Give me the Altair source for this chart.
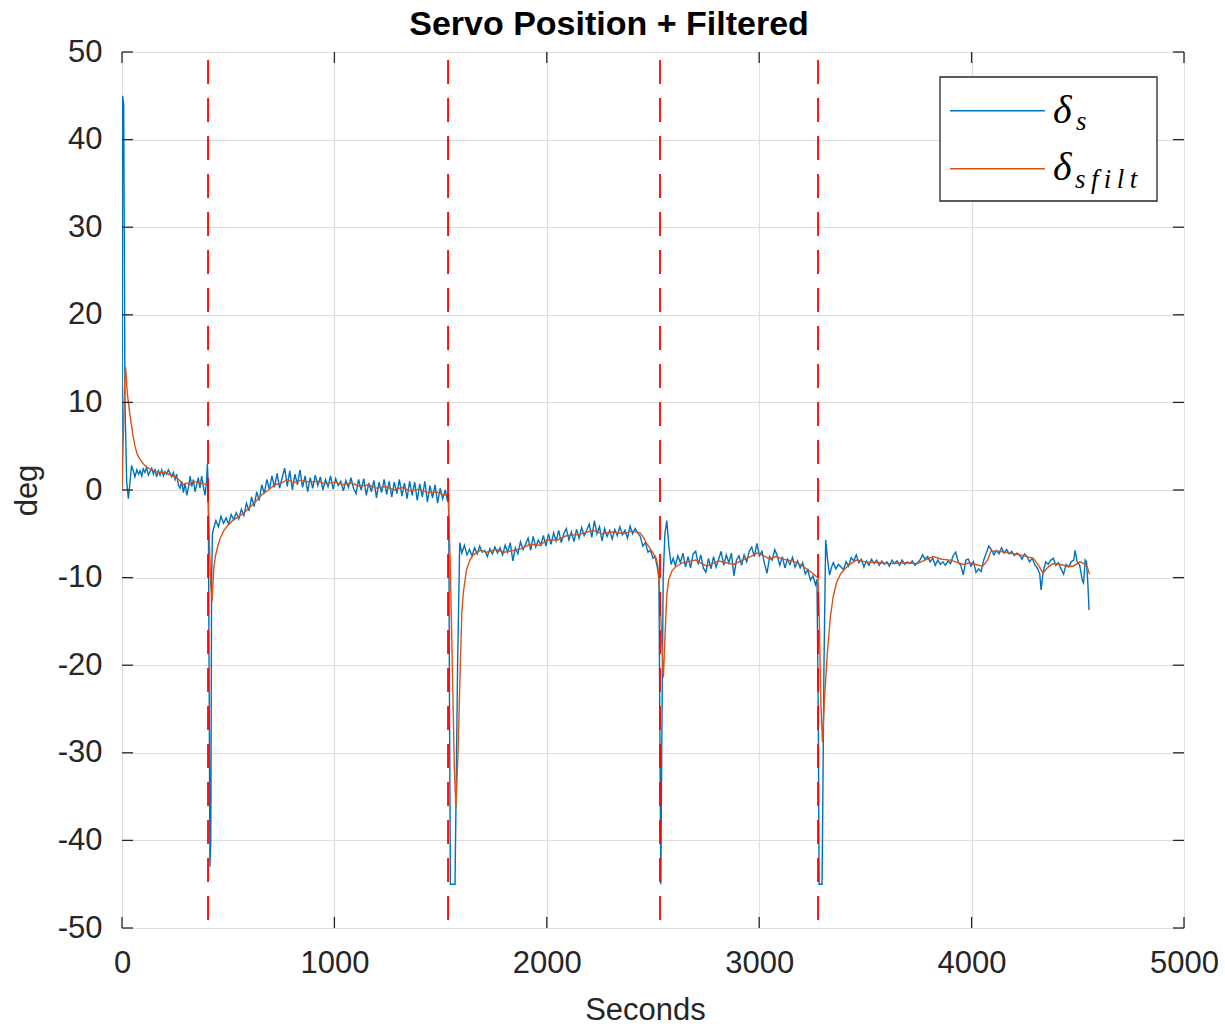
import altair as alt
import pandas as pd

# ---------------- data ----------------
# servo position (blue), irregular parts written explicitly, uniform parts sampled every 12 s
seg1_t = [0, 3, 8, 14, 22, 30, 38, 45, 53, 61, 70, 78, 85, 93, 100, 108, 116, 124, 132, 140,
          148, 155, 163, 171, 179, 187, 195, 202, 210, 218, 226, 234, 242, 250, 257, 265, 273, 281, 289, 297,
          305, 313, 321, 328, 336, 344, 351, 359, 367, 375, 383, 391, 398, 402, 406, 410, 414, 418, 422, 426]
seg1_v = [0, 45, 44, 10, 1, -1, 1, 2.8, 2.2, 1.5, 2.3, 1.8, 2.2, 1.6, 2.4, 2.0, 2.6, 1.7, 2.1, 2.5,
          1.8, 2.4, 1.5, 2.2, 1.7, 2.3, 1.6, 2.1, 1.8, 2.3, 1.9, 1.5, 2.0, 1.2, 1.8, 0.6, 0.2, 1.0, -0.3, 0.8,
          -0.6, 0.3, 1.6, 0.4, 1.2, -0.2, 0.5, 1.4, 0.2, 1.6, 0.4, -0.6, 1.0, 3.0, 0.5, -20, -43, -40, -10, -5]

seg2_t = list(range(430, 1523, 12)) + [1532, 1538, 1542, 1546, 1568, 1580, 1590]
seg2_v = [-4.5, -3.5, -4.2, -3.0, -3.8, -3.2, -3.9, -2.8, -3.4, -2.6,
          -3.3, -2.2, -2.9, -1.5, -2.4, -0.8, -1.9, -0.2, -1.2, 0.6,
          -0.4, 1.2, 0.1, 1.6, 0.3, 1.9, 0.2, 1.4, 2.5, 0.4,
          2.2, 0.0, 1.8, 0.6, 2.3, 0.3, 1.6, -0.2, 1.4, 0.2,
          1.7, 0.5, 1.5, 0.0, 1.2, 0.4, 1.6, 0.1, 1.3, 0.5,
          1.0, -0.1, 1.1, 0.3, 1.4, 0.2, -0.4, 1.2, 0.0, 1.3,
          -0.6, 0.8, -0.2, 1.1, -0.9, 0.9, -0.3, 1.2, -0.5, 1.0,
          -0.8, 0.9, -0.4, 1.2, -0.7, 0.8, -1.0, 1.0, -0.6, 0.9,
          -1.2, 0.7, -0.8, 1.0, -1.4, 0.5, -0.9, 0.6, -1.5, 0.2,
          -1.0, 0.0,
          -1.2, -0.5, -25, -45, -45, -20, -6.0]

seg3_t = list(range(1600, 2501, 12)) + [2510, 2520, 2528, 2533, 2537, 2541, 2548, 2556, 2565, 2575, 2585, 2595]
seg3_v = [-7.2, -6.3, -7.4, -6.8, -7.5, -6.6, -7.3, -6.4, -7.1, -6.9,
          -7.6, -6.7, -7.3, -6.5, -7.2, -6.6, -7.4, -6.3, -7.1, -6.0,
          -8.1, -6.6, -7.3, -5.9, -6.8, -6.2, -5.5, -6.9, -5.3, -6.5,
          -5.7, -6.3, -5.2, -6.4, -5.0, -6.2, -4.9, -5.8, -4.6, -6.0,
          -5.0, -4.4, -5.7, -4.8, -5.9, -4.5, -5.5, -4.3, -5.2, -4.6,
          -3.9, -5.4, -3.5, -5.0, -4.2, -5.8, -4.4, -5.3, -4.6, -5.6,
          -4.5, -5.2, -4.2, -5.1, -4.6, -5.5, -4.1, -5.0, -4.4, -4.9,
          -5.3, -6.4, -6.0, -7.1, -6.9, -7.8,
          -7.6, -8.8, -10, -30, -45, -30, -10, -5, -3.5, -6.5, -8.5, -7.8]

seg4_t = list(range(2605, 3266, 12)) + [3272, 3278, 3282, 3296, 3305, 3313, 3322, 3331, 3341, 3349]
seg4_v = [-8.6, -7.5, -8.3, -7.2, -8.8, -7.6, -8.9, -7.3, -7.0, -8.5,
          -7.4, -8.9, -9.4, -7.8, -9.0, -7.6, -8.8, -7.9, -7.0, -8.6,
          -7.4, -8.3, -7.2, -9.8, -8.0, -7.5, -8.6, -7.4, -8.2, -7.0,
          -6.5, -7.6, -6.1, -7.5, -7.0, -8.4, -9.5, -7.6, -8.0, -6.8,
          -7.5, -8.6, -7.6, -8.9, -7.9, -8.5, -7.7, -8.8, -8.1, -8.9,
          -8.3, -9.6, -9.1, -10.3, -9.8, -10.8,
          -10.2, -25, -45, -45, -20, -5.7, -8.0, -9.7, -8.8, -8.3]

seg5_t = list(range(3361, 4322, 12)) + [4327, 4337, 4349, 4361, 4373, 4385, 4397, 4409, 4421, 4433,
                                        4445, 4457, 4469, 4481, 4487, 4497, 4509, 4521, 4527, 4535,
                                        4541, 4547, 4553]
seg5_v = [-9.0, -8.5, -8.8, -9.1, -8.2, -8.7, -7.7, -8.1, -7.4, -8.3,
          -7.9, -8.8, -8.1, -8.6, -7.9, -8.4, -8.0, -8.6, -8.1, -8.5,
          -8.2, -8.7, -8.0, -8.4, -8.1, -8.6, -8.0, -8.5, -8.2, -8.4,
          -8.1, -8.6, -8.3, -8.0, -7.4, -7.9, -7.6, -8.2, -7.8, -8.6,
          -8.0, -8.5, -8.2, -8.6, -8.1, -8.4, -7.5, -7.1, -8.2, -8.6,
          -9.7, -8.0, -7.9, -8.7, -8.2, -9.4, -9.0, -9.3, -8.0, -7.2,
          -6.4, -6.8, -7.4, -6.9, -7.3, -6.6, -7.2, -6.8, -7.3, -7.0,
          -7.5, -7.2, -7.4, -7.9, -7.3, -7.6, -8.2, -7.8, -8.5, -8.9,
          -9.6,
          -11.4, -9.3, -8.2, -8.5, -8.0, -7.8, -8.6, -8.3, -9.0, -9.6,
          -8.5, -8.8, -8.2, -8.0, -6.9, -8.2, -8.6, -10.3, -10.6, -8.0,
          -8.2, -10.5, -13.7]

# filtered servo position (orange)
filt_t = [0, 6, 12, 17, 25, 38, 50, 61, 73, 85, 100, 116, 140, 160, 179, 200, 220, 240, 257, 275,
          290, 304, 320, 335, 351, 370, 385, 400, 405, 410, 418, 424, 432, 440, 450, 461, 480, 500, 520, 545,
          570, 600, 634, 660, 690, 720, 750, 780, 806, 840, 885, 920, 960, 1000, 1042, 1080, 1120, 1160, 1199, 1240,
          1280, 1320, 1356, 1400, 1440, 1480, 1513, 1535, 1545, 1555, 1565, 1572, 1582, 1591, 1600, 1607, 1622, 1638, 1654, 1685,
          1717, 1760, 1800, 1842, 1880, 1920, 1968, 2000, 2050, 2094, 2150, 2218, 2260, 2312, 2360, 2400, 2439, 2455, 2470, 2485,
          2500, 2515, 2523, 2535, 2542, 2549, 2556, 2565, 2574, 2590, 2610, 2640, 2664, 2700, 2730, 2754, 2780, 2810, 2844, 2880,
          2920, 2960, 2988, 3020, 3050, 3079, 3110, 3140, 3169, 3200, 3241, 3265, 3277, 3283, 3290, 3298, 3307, 3321, 3335, 3349,
          3365, 3385, 3420, 3457, 3500, 3565, 3620, 3680, 3746, 3780, 3818, 3860, 3900, 3926, 3960, 3990, 4020, 4052, 4075, 4091,
          4130, 4180, 4228, 4260, 4291, 4315, 4336, 4360, 4385, 4420, 4450, 4478, 4510, 4530, 4545, 4555]
filt_v = [0, 6, 12, 14, 11, 8.5, 6.5, 5.0, 4.0, 3.5, 3.0, 2.6, 2.3, 2.1, 2.0, 2.0, 1.8, 1.6, 1.4, 1.0,
          0.6, 0.8, 0.6, 1.0, 0.9, 0.8, 0.7, 0.6, 0.5, -5, -11, -12.7, -9, -7.5, -6.5, -5.6, -4.6, -4.0, -3.5, -3.1,
          -2.7, -2.0, -1.2, -0.5, 0.0, 0.6, 0.8, 1.2, 0.8, 1.1, 0.9, 1.0, 0.7, 0.9, 0.6, 0.8, 0.4, 0.6, 0.2, 0.4,
          0.0, 0.3, -0.1, 0.1, -0.3, -0.2, -0.6, -0.5, -8, -20, -32, -36.3, -30, -21.6, -14, -11.7, -9.1, -8.0, -7.4, -6.9,
          -7.1, -6.8, -7.1, -6.9, -6.7, -6.2, -6.3, -5.7, -5.7, -5.2, -5.1, -4.6, -5.0, -4.8, -5.0, -4.7, -4.9, -5.4, -6.1, -6.6,
          -7.2, -7.8, -8.7, -13, -18, -21.4, -17, -12, -10.2, -9.2, -8.7, -8.3, -8.2, -8.0, -8.4, -8.7, -8.4, -8.1, -8.3, -8.5,
          -8.0, -7.6, -7.2, -7.5, -7.9, -7.6, -7.9, -8.0, -8.2, -8.6, -9.3, -9.8, -10.0, -15, -24, -28.8, -24, -18.6, -14.5, -12.1,
          -10.5, -9.5, -8.6, -8.0, -8.2, -8.3, -8.4, -8.3, -8.4, -8.0, -7.6, -7.9, -8.0, -8.2, -8.5, -8.3, -8.5, -8.7, -8.0, -7.0,
          -7.0, -7.2, -7.4, -7.6, -7.8, -8.6, -9.5, -8.8, -8.4, -8.5, -8.7, -8.7, -8.2, -8.4, -8.8, -9.6]

events = [405, 1535, 2533, 3277]          # red dashed markers
x_ticks = [0, 1000, 2000, 3000, 4000, 5000]
y_ticks = [-50, -40, -30, -20, -10, 0, 10, 20, 30, 40, 50]

blue_t = seg1_t + seg2_t + seg3_t + seg4_t + seg5_t
blue_v = seg1_v + seg2_v + seg3_v + seg4_v + seg5_v
assert len(blue_t) == len(blue_v), (len(blue_t), len(blue_v))
assert len(filt_t) == len(filt_v), (len(filt_t), len(filt_v))

df = pd.concat([
    pd.DataFrame({"t": blue_t, "v": blue_v, "series": "s"}),
    pd.DataFrame({"t": filt_t, "v": filt_v, "series": "sfilt"}),
], ignore_index=True)

# ---------------- styling ----------------
FONT = "Liberation Sans"
INK = "#262626"
W, H = 1062, 876
xs = alt.Scale(domain=[0, 5000], nice=False, zero=False)
ys = alt.Scale(domain=[-50, 50], nice=False, zero=False)

x_axis = alt.Axis(values=x_ticks, labelExpr="toString(datum.value)", title="Seconds", grid=True,
                  gridColor="#dedede", gridWidth=1.2, ticks=False, tickSize=0, domain=False,
                  labelFont=FONT, labelFontSize=31, labelColor=INK, labelPadding=20,
                  labelFlush=False, labelOverlap=False, labelBaseline="top",
                  titleFont=FONT, titleFontSize=31, titleFontWeight="normal", titleColor=INK,
                  titleX=523, titleY=91, titleBaseline="alphabetic", titleAnchor="middle")
y_axis = alt.Axis(values=y_ticks, labelExpr="toString(datum.value)", title="deg", grid=True,
                  gridColor="#dedede", gridWidth=1.2, ticks=False, tickSize=0, domain=False,
                  labelFont=FONT, labelFontSize=31, labelColor=INK, labelPadding=20,
                  labelFlush=False, labelOverlap=False,
                  titleFont=FONT, titleFontSize=31, titleFontWeight="normal", titleColor=INK,
                  titleAngle=-90, titleX=-79, titleY=438, titleBaseline="bottom", titleAlign="center")

lines = alt.Chart(df).mark_line(strokeWidth=1.4, clip=True).encode(
    x=alt.X("t:Q", scale=xs, axis=x_axis),
    y=alt.Y("v:Q", scale=ys, axis=y_axis),
    color=alt.Color("series:N", scale=alt.Scale(domain=["s", "sfilt"], range=["#0072BD", "#D95319"]),
                    legend=None),
)

ev = alt.Chart(pd.DataFrame({"t": events, "lo": [-50] * 4, "hi": [50] * 4})).mark_rule(
    color="#FF0000", strokeWidth=1.8, strokeDash=[24, 14], strokeDashOffset=30
).encode(x=alt.X("t:Q", scale=xs), y=alt.Y("hi:Q", scale=ys), y2="lo:Q")

# inward tick marks on all four sides (MATLAB box style)
xt = pd.DataFrame({"x": x_ticks * 2,
                   "y": [-50] * 6 + [50] * 6,
                   "y2": [-48.74] * 6 + [48.74] * 6})
yt = pd.DataFrame({"y": y_ticks * 2,
                   "x": [0] * 11 + [5000] * 11,
                   "x2": [52] * 11 + [4948] * 11})
xtick = alt.Chart(xt).mark_rule(color=INK, strokeWidth=1.3).encode(
    x=alt.X("x:Q", scale=xs), y=alt.Y("y:Q", scale=ys), y2="y2:Q")
ytick = alt.Chart(yt).mark_rule(color=INK, strokeWidth=1.3).encode(
    y=alt.Y("y:Q", scale=ys), x=alt.X("x:Q", scale=xs), x2="x2:Q")

# legend box drawn by hand (subscripted math labels)
one = pd.DataFrame({"k": [0]})
lg_box = alt.Chart(one).mark_rect(fill="white", stroke=INK, strokeWidth=1.3).encode(
    x=alt.value(818), x2=alt.value(1035), y=alt.value(25), y2=alt.value(149))
lg_l1 = alt.Chart(one).mark_rule(color="#0072BD", strokeWidth=1.5).encode(
    x=alt.value(828), x2=alt.value(923), y=alt.value(58.7))
lg_l2 = alt.Chart(one).mark_rule(color="#D95319", strokeWidth=1.5).encode(
    x=alt.value(828), x2=alt.value(923), y=alt.value(116.7))
SERIF = "Liberation Serif"
d1 = alt.Chart(one).mark_text(text="δ", font=SERIF, fontStyle="italic", fontSize=40, align="left",
                              baseline="alphabetic", color="black").encode(x=alt.value(931), y=alt.value(71))
s1 = alt.Chart(one).mark_text(text="s", font=SERIF, fontStyle="italic", fontSize=27, align="left",
                              baseline="alphabetic", color="black").encode(x=alt.value(954), y=alt.value(78))
d2 = alt.Chart(one).mark_text(text="δ", font=SERIF, fontStyle="italic", fontSize=40, align="left",
                              baseline="alphabetic", color="black").encode(x=alt.value(931), y=alt.value(128))
s2 = alt.Chart(one).mark_text(text="s\u2009f\u2009i\u2009l\u2009t", font=SERIF, fontStyle="italic",
                              fontSize=27, align="left", baseline="alphabetic", color="black").encode(
    x=alt.value(953), y=alt.value(136))

# chart title as a text mark centred over the figure
title = alt.Chart(one).mark_text(text="Servo Position + Filtered", font=FONT, fontSize=34,
                                 fontWeight="bold", align="center", baseline="alphabetic",
                                 color="black").encode(x=alt.value(487), y=alt.value(-17))

chart = alt.layer(lines, ev, xtick, ytick, lg_box, lg_l1, lg_l2, d1, s1, d2, s2, title).properties(
    width=W, height=H,
    padding={"left": 122, "top": 52, "right": 41, "bottom": 99},
    autosize=alt.AutoSizeParams(type="none"),
).configure_view(stroke=INK, strokeWidth=1.3).configure(background="white")

chart.save("out.html", embed_options={"renderer": "svg", "actions": False})
